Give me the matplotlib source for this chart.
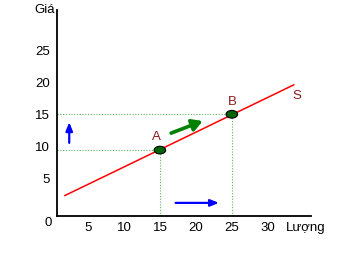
import numpy as np
import matplotlib.pyplot as plt
from matplotlib.patches import Ellipse

plt.rcParams['font.family'] = ['Liberation Sans', 'DejaVu Sans']

# data
x_ticks = [5, 10, 15, 20, 25, 30]
y_ticks = [5, 10, 15, 20, 25]
supply_q = [1.8, 33.6]
supply_p = [2.4, 19.7]
pt_names = ['A', 'B']
pt_q = [15, 25]
pt_p = [9.5, 15.1]

fig = plt.figure(figsize=(3.5, 2.58), dpi=100)
# axes placed in pixels: left 57, right 311, bottom 216, top 10
ax = fig.add_axes([57/350, (258-216)/258, (311-57)/350, (216-10)/258])
x0, x1 = 0.7, 36.0
y0, y1 = -0.8, 31.4
ax.set_xlim(x0, x1)
ax.set_ylim(y0, y1)

for s in ['top', 'right']:
    ax.spines[s].set_visible(False)
for s in ['left', 'bottom']:
    ax.spines[s].set_linewidth(1.3)

ax.set_xticks(x_ticks)
ax.set_yticks(y_ticks)
ax.tick_params(axis='x', length=0, pad=4, labelsize=9.5)
ax.tick_params(axis='y', length=0, pad=5, labelsize=9.5)

# supply line
ax.plot(supply_q, supply_p, color='red', lw=1.1, clip_on=False)

# dotted guides
dot = dict(color='#5cb85c', lw=0.8, ls=(0, (1, 1.5)))
for q, p in zip(pt_q, pt_p):
    ax.plot([x0, q], [p, p], **dot)
    ax.plot([q, q], [y0, p], **dot)

for q, p in zip(pt_q, pt_p):
    ax.add_patch(Ellipse((q, p), 1.6, 1.2, facecolor='#006400', edgecolor='black',
                         lw=0.8, zorder=5))
ax.text(pt_q[0] - 0.5, pt_p[0] + 2.0, pt_names[0], color='#8b1a1a', fontsize=9.5, ha='center', va='center')
ax.text(pt_q[1], pt_p[1] + 1.9, pt_names[1], color='#8b1a1a', fontsize=9.5, ha='center', va='center')
ax.text(34.0, 17.9, 'S', color='#8b1a1a', fontsize=9.5, ha='center', va='center')

# arrows
ax.annotate('', xy=(21.3, 14.2), xytext=(16.2, 12.0),
            arrowprops=dict(arrowstyle='-|>,head_length=0.6,head_width=0.35', color='green', lw=2.6))
ax.annotate('', xy=(23.6, 1.25), xytext=(16.8, 1.25),
            arrowprops=dict(arrowstyle='-|>,head_length=0.5,head_width=0.2', color='blue', lw=1.6))
ax.annotate('', xy=(2.4, 14.3), xytext=(2.4, 10.2),
            arrowprops=dict(arrowstyle='-|>,head_length=0.5,head_width=0.2', color='blue', lw=1.6))

# axis names and origin
ax.text(-0.5, -0.9, '0', fontsize=9.5, ha='center', va='top')
ax.text(0.4, 31.4, 'Giá', fontsize=9.5, ha='right', va='center')
ax.text(32.5, -2.7, 'Lượng', fontsize=9.5, ha='left', va='center')

fig.savefig('out.png', dpi=100)
